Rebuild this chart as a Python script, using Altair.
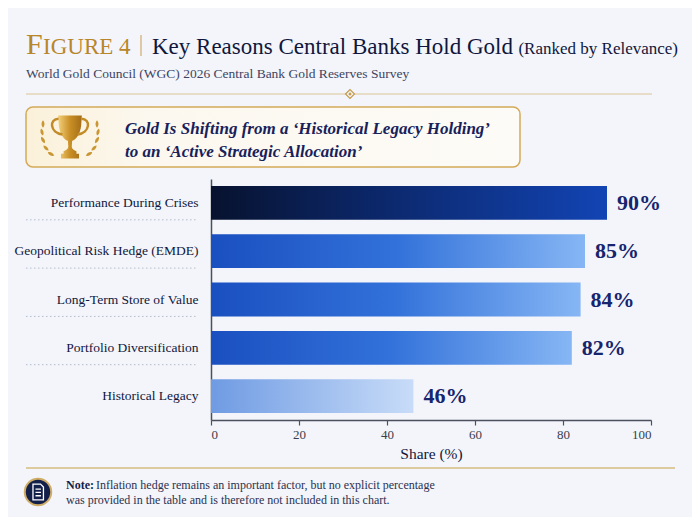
import altair as alt
import pandas as pd

# ---------------- data ----------------
reasons = [
    "Performance During Crises",
    "Geopolitical Risk Hedge (EMDE)",
    "Long-Term Store of Value",
    "Portfolio Diversification",
    "Historical Legacy",
]
shares = [90, 85, 84, 82, 46]
tiers = ["top", "mid", "mid", "mid", "low"]
x_ticks = [0, 20, 40, 60, 80, 100]

title_fig_initial = "F"
title_fig_rest = "IGURE 4"
title_main = "Key Reasons Central Banks Hold Gold"
title_paren = "(Ranked by Relevance)"
subtitle = "World Gold Council (WGC) 2026 Central Bank Gold Reserves Survey"
callout_1 = "Gold Is Shifting from a \u2018Historical Legacy Holding\u2019"
callout_2 = "to an \u2018Active Strategic Allocation\u2019"
note_bold = "Note:"
note_1 = "Inflation hedge remains an important factor, but no explicit percentage"
note_2 = "was provided in the table and is therefore not included in this chart."
x_title = "Share (%)"

df = pd.DataFrame({
    "reason": reasons,
    "share": shares,
    "tier": tiers,
    "label": [f"{v}%" for v in shares],
})
one = pd.DataFrame({"k": [0]})

SERIF = "Liberation Serif"
NAVY = "#141d4a"
GOLD = "#b8862b"
BG = "#f3f5fa"

# plot origin in page pixels
OX, OY = 211, 179


def vx(x):
    return alt.value(x - OX)


def vy(y):
    return alt.value(y - OY)


def grad(stops, x2=1, y2=0):
    return alt.Gradient(
        gradient="linear",
        stops=[alt.GradientStop(color=c, offset=o) for o, c in stops],
        x1=0, y1=0, x2=x2, y2=y2,
    )


def txt(text, x, y, size, color=NAVY, align="left", **kw):
    return alt.Chart(one).mark_text(
        text=text, align=align, baseline="alphabetic", font=SERIF,
        fontSize=size, color=color, **kw
    ).encode(x=vx(x), y=vy(y))


y_scale = alt.Scale(domain=reasons, paddingInner=0.3, paddingOuter=0.145)
y_enc = alt.Y(
    "reason:N",
    sort=reasons,
    scale=y_scale,
    axis=alt.Axis(
        title=None, labelFont=SERIF, labelFontSize=13.5, labelColor="#10173d",
        ticks=False, domainColor="#4b4f5e", domainWidth=1.5,
        labelPadding=13, labelLimit=220,
    ),
)
x_enc = alt.X(
    "share:Q",
    scale=alt.Scale(domain=[0, 100], nice=False),
    axis=alt.Axis(
        values=x_ticks, title=x_title, grid=False,
        labelFont=SERIF, labelFontSize=13, labelColor="#3a3d4a", labelPadding=3,
        titleFont=SERIF, titleFontSize=15.5, titleFontWeight="normal",
        titleColor="#10173d", titlePadding=5,
        tickColor="#4b4f5e", tickSize=5, tickWidth=1.2,
        domainColor="#4b4f5e", domainWidth=1.5,
    ),
)

base = alt.Chart(df)

grad_top = grad([(0, "#07122e"), (0.35, "#0b2461"), (1, "#1244b4")])
grad_mid = grad([(0, "#1a4fc0"), (0.5, "#3372da"), (1, "#86b6f4")])
grad_low = grad([(0, "#6f9be3"), (1, "#c8dcf8")])

bars_top = base.transform_filter(alt.datum.tier == "top").mark_bar(color=grad_top).encode(x=x_enc, y=y_enc)
bars_mid = base.transform_filter(alt.datum.tier == "mid").mark_bar(color=grad_mid).encode(x=x_enc, y=y_enc)
bars_low = base.transform_filter(alt.datum.tier == "low").mark_bar(color=grad_low).encode(x=x_enc, y=y_enc)

labels = base.mark_text(
    align="left", baseline="middle", dx=10, font=SERIF, fontSize=22,
    fontWeight="bold", color="#17246e"
).encode(x=x_enc, y=y_enc, text="label:N")

dots = base.transform_filter(alt.datum.tier != "low").mark_rule(
    strokeDash=[1.5, 2.5], color="#b5bccb", strokeWidth=1
).encode(
    y=alt.Y("reason:N", sort=reasons, bandPosition=1, scale=y_scale),
    x=vx(26), x2=vx(197),
)

# ---------------- header ----------------
t_f = txt(title_fig_initial, 26, 54, 30, GOLD)
t_fig = txt(title_fig_rest, 43, 54, 23, GOLD)
t_sep = alt.Chart(one).mark_rule(color="#cfae6c", strokeWidth=1.2).encode(
    x=vx(141), y=vy(35), y2=vy(56))
t_main = txt(title_main, 152, 54, 23, "#10173d")
t_paren = txt(title_paren, 678, 54, 17, "#10173d", align="right")
t_sub = txt(subtitle, 26, 78, 13.5, "#3d4463")

divider = alt.Chart(one).mark_rule(color="#dcc493", strokeWidth=1).encode(
    x=vx(26), x2=vx(652), y=vy(94))
diamond = alt.Chart(one).mark_point(
    shape="diamond", size=80, filled=True, fill=BG, stroke="#c49a4a", strokeWidth=1.2, opacity=1
).encode(x=vx(350), y=vy(94))
diamond_in = alt.Chart(one).mark_point(
    shape="diamond", size=12, filled=True, color="#c49a4a", opacity=1
).encode(x=vx(350), y=vy(94))

box = alt.Chart(one).mark_rect(
    fill=grad([(0, "#fbf1da"), (0.25, "#fcf8ef"), (1, "#fdfbf7")]),
    stroke="#d4aa58", strokeWidth=1.5, cornerRadius=7,
).encode(x=vx(26), x2=vx(520), y=vy(107), y2=vy(167))

trophy_path = (
    "M -0.55 -1 L 0.55 -1 L 0.52 -0.55 C 0.48 -0.15 0.3 0.1 0.1 0.18 "
    "L 0.08 0.45 C 0.08 0.55 0.2 0.62 0.3 0.66 L 0.3 0.78 L 0.42 0.78 L 0.42 1 "
    "L -0.42 1 L -0.42 0.78 L -0.3 0.78 L -0.3 0.66 C -0.2 0.62 -0.08 0.55 -0.08 0.45 "
    "L -0.1 0.18 C -0.3 0.1 -0.48 -0.15 -0.52 -0.55 Z"
)
handles_path = (
    "M -0.53 -0.85 C -0.98 -0.85 -0.95 -0.2 -0.35 -0.12 "
    "M 0.53 -0.85 C 0.98 -0.85 0.95 -0.2 0.35 -0.12"
)
leaf_path = "M 0 -1 C 0.55 -0.4 0.55 0.4 0 1 C -0.55 0.4 -0.55 -0.4 0 -1 Z"
gold_grad = grad([(0, "#f2d07a"), (0.5, "#c98f26"), (1, "#a56d17")])

trophy = alt.Chart(one).mark_point(
    shape=trophy_path, size=1850, filled=True, fill=gold_grad, strokeWidth=0, opacity=1
).encode(x=vx(70), y=vy(137))
handles = alt.Chart(one).mark_point(
    shape=handles_path, size=1850, filled=False, stroke="#c38b26", strokeWidth=2.5, opacity=1
).encode(x=vx(70), y=vy(137))

leaf_left = [(51, 154, 300), (46, 148, 315), (43, 140, 330), (42, 132, 345), (43, 124, 0)]
leaf_rows = []
for lx, ly, a in leaf_left:
    leaf_rows.append({"lx": lx - OX, "ly": ly - OY, "a": a})
    leaf_rows.append({"lx": (140 - lx) - OX, "ly": ly - OY, "a": (360 - a) % 360})
leaves = alt.Chart(pd.DataFrame(leaf_rows)).mark_point(
    shape=leaf_path, size=55, filled=True, color="#c99634", opacity=1
).encode(
    x=alt.X("lx:Q", scale=None), y=alt.Y("ly:Q", scale=None),
    angle=alt.Angle("a:Q", scale=None),
)

c1 = txt(callout_1, 125, 134, 17, "#18215a", fontStyle="italic", fontWeight="bold")
c2 = txt(callout_2, 125, 157, 17, "#18215a", fontStyle="italic", fontWeight="bold")

# ---------------- footer ----------------
foot_line = alt.Chart(one).mark_rule(color="#d6bb7e", strokeWidth=1.5).encode(
    x=vx(26), x2=vx(675), y=vy(468))
icon = alt.Chart(one).mark_point(
    shape="circle", size=700, filled=True, fill="#13204a", stroke="#d0ad66",
    strokeWidth=2, opacity=1
).encode(x=vx(38), y=vy(492))
doc_path = (
    "M -0.6 -0.95 L 0.3 -0.95 L 0.65 -0.6 L 0.65 0.95 L -0.6 0.95 Z "
    "M -0.3 -0.35 L 0.35 -0.35 M -0.3 0.05 L 0.35 0.05 M -0.3 0.45 L 0.35 0.45"
)
doc = alt.Chart(one).mark_point(
    shape=doc_path, size=280, filled=False, stroke="white", strokeWidth=1.3, opacity=1
).encode(x=vx(38), y=vy(492))
n_b = txt(note_bold, 66, 489, 12, NAVY, fontWeight="bold")
n_1 = txt(note_1, 96, 489, 12, "#2b3150")
n_2 = txt(note_2, 66, 504, 12, "#2b3150")

chart = alt.layer(
    dots, bars_top, bars_mid, bars_low, labels,
    t_f, t_fig, t_sep, t_main, t_paren, t_sub,
    divider, diamond, diamond_in,
    box, trophy, handles, leaves, c1, c2,
    foot_line, icon, doc, n_b, n_1, n_2,
).properties(
    width=440, height=241,
    padding={"left": 203, "top": 171, "right": 41, "bottom": 97},
    autosize=alt.AutoSizeParams(type="none"),
    background=BG,
).configure_view(stroke=None)

chart.save("out.html", embed_options={"renderer": "svg", "actions": False})
